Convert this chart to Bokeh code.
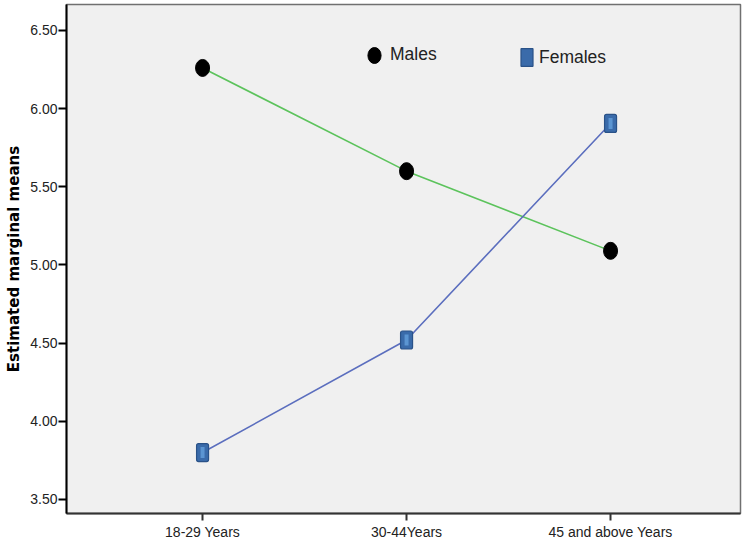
from bokeh.plotting import figure
from bokeh.models import ColumnDataSource, Legend, LegendItem, FixedTicker, Range1d
from bokeh.embed import file_html
from bokeh.resources import INLINE

categories = ["18-29 Years", "30-44Years", "45 and above Years"]
males = [6.26, 5.60, 5.09]
females = [3.80, 4.52, 5.905]
y_ticks = [3.5, 4.0, 4.5, 5.0, 5.5, 6.0, 6.5]

xs = list(range(len(categories)))
src_m = ColumnDataSource(dict(x=xs, y=males))
src_f = ColumnDataSource(dict(x=xs, y=females))

p = figure(width=742, height=542, output_backend="svg", toolbar_location=None,
           x_range=Range1d(-0.667, 2.637), y_range=Range1d(3.41, 6.666),
           min_border_left=66, min_border_right=2, min_border_top=4, min_border_bottom=0)

p.background_fill_color = "#F0F0F0"
p.border_fill_color = "white"
p.outline_line_color = "#707070"
p.outline_line_width = 1.5
p.grid.visible = False

# lines
p.line("x", "y", source=src_m, line_color="#5CC35C", line_width=1.6)
p.line("x", "y", source=src_f, line_color="#5B6EBE", line_width=1.6)

# markers
male_r = p.ellipse("x", "y", source=src_m, width=14, height=17,
                   width_units="screen", height_units="screen",
                   fill_color="black", line_color="black")
fem_r = p.rect("x", "y", source=src_f, width=12, height=18,
               width_units="screen", height_units="screen",
               fill_color="#3A6BAA", line_color="#2A5288", line_width=1.2,
               border_radius=2)
p.rect("x", "y", source=src_f, width=4, height=11,
       width_units="screen", height_units="screen",
       fill_color="#5B95D2", line_color=None)

# axes
p.yaxis.ticker = FixedTicker(ticks=y_ticks)
p.yaxis.major_label_overrides = {t: f"{t:.2f}" for t in y_ticks}
p.yaxis.axis_label = "Estimated marginal means"
p.yaxis.axis_label_text_font = "DejaVu Sans"
p.yaxis.axis_label_text_font_style = "bold"
p.yaxis.axis_label_text_font_size = "15px"
p.yaxis.axis_label_text_color = "black"
p.yaxis.axis_label_standoff = 4
p.yaxis.major_label_text_font = "Liberation Sans"
p.yaxis.major_label_text_font_size = "14px"
p.yaxis.major_label_text_color = "#222222"
p.yaxis.major_label_standoff = 1
p.yaxis.major_tick_out = 8
p.yaxis.major_tick_in = 0
p.yaxis.minor_tick_line_color = None
p.yaxis.axis_line_width = 2
p.yaxis.axis_line_color = "black"
p.yaxis.major_tick_line_color = "black"
p.yaxis.major_tick_line_width = 2

p.xaxis.ticker = FixedTicker(ticks=xs)
p.xaxis.major_label_overrides = {i: c for i, c in enumerate(categories)}
p.xaxis.axis_label = None
p.xaxis.axis_label_standoff = 0
p.xaxis.major_label_text_font = "Liberation Sans"
p.xaxis.major_label_text_font_size = "14px"
p.xaxis.major_label_text_color = "#222222"
p.xaxis.major_label_standoff = 3
p.xaxis.major_tick_out = 7
p.xaxis.major_tick_in = 0
p.xaxis.minor_tick_line_color = None
p.xaxis.axis_line_width = 2
p.xaxis.axis_line_color = "#333333"
p.xaxis.major_tick_line_color = "#333333"
p.xaxis.major_tick_line_width = 2

common = dict(orientation="horizontal", padding=0, margin=0,
              label_text_font="Liberation Sans", label_text_font_size="17.5px",
              label_text_color="#222222", label_height=20,
              border_line_color=None, background_fill_alpha=0)

leg_m = Legend(items=[LegendItem(label="Males", renderers=[male_r])],
               location=(298, 448), glyph_width=20, glyph_height=20,
               label_standoff=6, **common)
leg_f = Legend(items=[LegendItem(label="Females", renderers=[fem_r])],
               location=(453, 445), glyph_width=15, glyph_height=22,
               label_standoff=5, **common)
p.add_layout(leg_m, "center")
p.add_layout(leg_f, "center")

open("out.html", "w").write(file_html(p, INLINE))
